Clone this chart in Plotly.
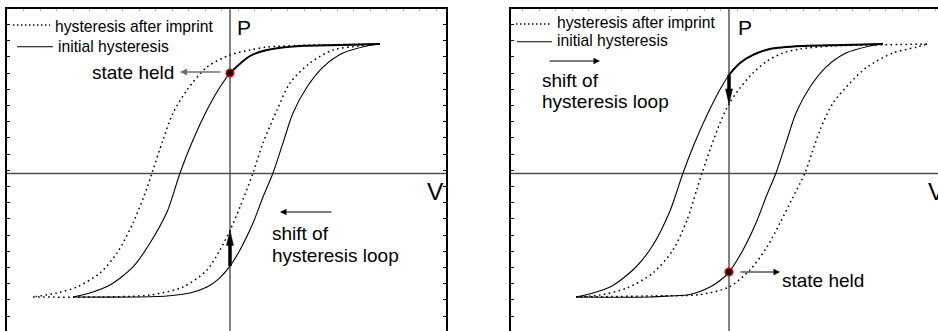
import plotly.graph_objects as go

W, H = 938, 331
FONT = "Liberation Sans, Arial, sans-serif"

# ---------------------------------------------------------------------------
# Hysteresis loops: V in arbitrary voltage units, P normalised to saturation.
# Each loop = upper branch (sweep down) + lower branch (sweep up).
# ---------------------------------------------------------------------------

# Left panel: loop shifted towards negative voltage after imprint
left_init_up_v = [3.00, 2.20, 1.40, 0.74, 0.40, 0.00, -0.20, -0.46, -0.74, -1.00,
                  -1.14, -1.26, -1.60, -1.94, -2.40, -2.80, -3.14]
left_init_up_p = [0.996, 0.988, 0.981, 0.950, 0.904, 0.773, 0.665, 0.488, 0.258, 0.004,
                  -0.165, -0.296, -0.535, -0.719, -0.858, -0.919, -0.950]
left_init_lo_v = [-3.14, -1.94, -1.26, -0.80, -0.46, -0.22, 0.00, 0.20, 0.46, 0.66, 0.86,
                  1.06, 1.26, 1.54, 1.86, 2.26, 2.74, 3.00]
left_init_lo_p = [-0.950, -0.950, -0.942, -0.919, -0.873, -0.808, -0.712, -0.588, -0.381, -0.181,
                  0.004, 0.235, 0.465, 0.665, 0.819, 0.927, 0.981, 0.996]
left_impr_up_v = [3.00, 1.40, 0.74, 0.40, 0.00, -0.46, -0.86, -1.14, -1.34, -1.56,
                  -1.66, -1.94, -2.26, -2.60, -3.06, -3.46, -3.94]
left_impr_up_p = [0.996, 0.985, 0.973, 0.950, 0.912, 0.819, 0.642, 0.465, 0.258, 0.004,
                  -0.112, -0.381, -0.612, -0.765, -0.873, -0.919, -0.950]
left_impr_lo_v = [-3.94, -2.60, -1.60, -0.94, -0.46, -0.20, 0.00, 0.20, 0.46, 0.66,
                  0.94, 1.20, 1.60, 2.06, 2.60, 3.00]
left_impr_lo_p = [-0.950, -0.950, -0.935, -0.873, -0.742, -0.588, -0.438, -0.258, 0.004, 0.235,
                  0.488, 0.696, 0.850, 0.950, 0.981, 0.996]

# Right panel: loop shifted towards positive voltage after imprint
right_init_up_v = [3.08, 2.28, 1.48, 0.82, 0.48, 0.22, 0.00, -0.18, -0.42, -0.68,
                   -0.92, -1.06, -1.18, -1.52, -1.88, -2.34, -2.72, -3.06]
right_init_up_p = [0.996, 0.988, 0.981, 0.958, 0.912, 0.850, 0.758, 0.646, 0.465, 0.242,
                   0.004, -0.158, -0.288, -0.550, -0.727, -0.865, -0.919, -0.950]
right_init_lo_v = [-3.06, -1.58, -1.18, -0.78, -0.38, -0.18, 0.00, 0.28, 0.54, 0.74, 0.94,
                   1.14, 1.34, 1.62, 1.94, 2.34, 2.82, 3.08]
right_init_lo_p = [-0.950, -0.950, -0.942, -0.931, -0.873, -0.823, -0.758, -0.588, -0.381, -0.181,
                   0.004, 0.235, 0.465, 0.665, 0.819, 0.927, 0.981, 0.996]
right_impr_up_v = [3.96, 3.42, 2.76, 2.08, 1.42, 1.08, 0.76, 0.48, 0.22, 0.00,
                   -0.18, -0.36, -0.54, -0.64, -0.84, -1.12, -1.52, -2.04, -2.58, -3.06]
right_impr_up_p = [0.996, 0.992, 0.988, 0.981, 0.958, 0.927, 0.865, 0.773, 0.658, 0.535,
                   0.388, 0.204, 0.004, -0.119, -0.358, -0.588, -0.765, -0.881, -0.935, -0.950]
right_impr_lo_v = [-3.06, -1.58, -0.58, 0.00, 0.42, 0.76, 1.02, 1.26, 1.52, 1.66,
                   1.82, 2.08, 2.42, 2.76, 3.28, 3.76, 3.96]
right_impr_lo_p = [-0.950, -0.942, -0.931, -0.873, -0.742, -0.565, -0.381, -0.196, 0.004, 0.158,
                   0.335, 0.542, 0.696, 0.819, 0.927, 0.973, 0.996]

# ---------------------------------------------------------------------------
# Layout geometry
# ---------------------------------------------------------------------------
PLOT_TOP = 9
Y_RANGE = [-1.2115, 1.2654]
Y_DOMAIN = [0, 1 - PLOT_TOP / H]
PX_PER_P = (H - PLOT_TOP) / (Y_RANGE[1] - Y_RANGE[0])

SOLID = dict(color="#000", width=1.1, shape="spline", smoothing=0.8)
DOTTED = dict(color="#000", width=1.5, dash="1.6px,3.4px", shape="spline", smoothing=0.8)
BOLD = dict(color="#000", width=1.9, shape="spline", smoothing=0.8)


def px(x):
    return x / W


def py(y):
    return 1 - y / H


def p_at_zero(vs, ps):
    return ps[vs.index(0.0)]


fig = go.Figure()


def add_panel(xa, ya, impr_up, impr_lo, init_up, init_lo, held_branch):
    for (v, p) in (impr_up, impr_lo):
        fig.add_trace(go.Scatter(x=v, y=p, mode="lines", line=DOTTED,
                                 xaxis=xa, yaxis=ya, hoverinfo="skip"))
    for (v, p) in (init_up, init_lo):
        fig.add_trace(go.Scatter(x=v, y=p, mode="lines", line=SOLID,
                                 xaxis=xa, yaxis=ya, hoverinfo="skip"))
    # the initial upper branch between the P axis and saturation is emphasised
    v_up, p_up = init_up
    seg = [(v, p) for v, p in zip(v_up, p_up) if v >= 0]
    fig.add_trace(go.Scatter(x=[s[0] for s in seg], y=[s[1] for s in seg], mode="lines",
                             line=BOLD, xaxis=xa, yaxis=ya, hoverinfo="skip"))
    # state held at V = 0
    hv, hp = held_branch
    fig.add_trace(go.Scatter(x=[0.0], y=[p_at_zero(hv, hp)], mode="markers",
                             marker=dict(size=7.5, color="#000",
                                         line=dict(color="#e00000", width=1.6)),
                             xaxis=xa, yaxis=ya, hoverinfo="skip"))


add_panel("x", "y",
          (left_impr_up_v, left_impr_up_p), (left_impr_lo_v, left_impr_lo_p),
          (left_init_up_v, left_init_up_p), (left_init_lo_v, left_init_lo_p),
          (left_init_up_v, left_init_up_p))
add_panel("x2", "y2",
          (right_impr_up_v, right_impr_up_p), (right_impr_lo_v, right_impr_lo_p),
          (right_init_up_v, right_init_up_p), (right_init_lo_v, right_init_lo_p),
          (right_init_lo_v, right_init_lo_p))

# ---------------------------------------------------------------------------
# Axes: framed panels with the V / P axes drawn through the origin
# ---------------------------------------------------------------------------
def xaxis_cfg(domain, rng):
    return dict(domain=domain, range=rng, side="top", showline=True, linecolor="#000",
                linewidth=1.6, mirror=False, ticks="inside", ticklen=2, tickwidth=1,
                tickcolor="#aaa", tick0=-3.8, dtick=0.33, showticklabels=False,
                showgrid=False, zeroline=False, fixedrange=True)


def yaxis_cfg(anchor, mirror):
    return dict(domain=Y_DOMAIN, range=Y_RANGE, anchor=anchor, showline=True,
                linecolor="#000", linewidth=1.6, mirror=mirror, ticks="inside",
                ticklen=3, tickwidth=1, tickcolor="#000", tick0=0.0246, dtick=0.1246,
                showticklabels=False, showgrid=False, zeroline=False, fixedrange=True)


fig.update_layout(
    width=W, height=H, margin=dict(l=0, r=0, t=0, b=0),
    paper_bgcolor="white", plot_bgcolor="white", showlegend=False,
    xaxis=dict(xaxis_cfg([7 / W, 446 / W], [-4.46, 4.32]), anchor="y"),
    yaxis=yaxis_cfg("x", "ticks"),
    xaxis2=dict(xaxis_cfg([511 / W, 1.0], [-4.36, 4.18]), anchor="y2"),
    yaxis2=yaxis_cfg("x2", False),
)

AXIS_LINE = dict(color="#4d4d4d", width=1.4)
for xa, ya in (("x", "y"), ("x2", "y2")):
    fig.add_shape(type="line", xref=xa, yref=ya + " domain", x0=0, x1=0, y0=0, y1=1,
                  line=AXIS_LINE, layer="below")
    fig.add_shape(type="line", xref=xa + " domain", yref=ya, x0=0, x1=1, y0=0, y1=0,
                  line=AXIS_LINE, layer="below")


# thick arrows showing the change of the held polarisation at V = 0
def thick_arrow(xa, ya, p_from, p_to):
    d = 1 if p_to > p_from else -1
    fig.add_shape(type="line", xref=xa, yref=ya, x0=0, x1=0, y0=p_from,
                  y1=p_to - d * 10 / PX_PER_P, line=dict(color="#000", width=3.5))
    fig.add_shape(type="path", xref=xa, yref=ya, xsizemode="pixel", ysizemode="pixel",
                  xanchor=0, yanchor=p_to,
                  path=f"M0,0 L-3.5,{-15 * d} L3.5,{-15 * d} Z",
                  fillcolor="#000", line=dict(color="#000", width=0.5))


thick_arrow("x", "y", p_at_zero(left_init_lo_v, left_init_lo_p),
            p_at_zero(left_impr_lo_v, left_impr_lo_p))
thick_arrow("x2", "y2", p_at_zero(right_init_up_v, right_init_up_p),
            p_at_zero(right_impr_up_v, right_impr_up_p))


# ---------------------------------------------------------------------------
# Legends, labels and thin arrows
# ---------------------------------------------------------------------------
def sample_line(x0, x1, y, dotted):
    line = dict(color="#000", width=1.3 if dotted else 1.1)
    if dotted:
        line["dash"] = "1.4px,2.6px"
    fig.add_shape(type="line", xref="paper", yref="paper", x0=px(x0), x1=px(x1),
                  y0=py(y), y1=py(y), line=line)


def label(x, y, text, size):
    fig.add_annotation(x=px(x), y=py(y), xref="paper", yref="paper", text=text,
                       showarrow=False, xanchor="left", yanchor="middle", borderpad=0,
                       font=dict(family=FONT, size=size, color="#000"))


def thin_arrow(x_head, y_head, x_tail, y_tail, color, width, size):
    fig.add_annotation(x=px(x_head), y=py(y_head), xref="paper", yref="paper",
                       ax=x_tail - x_head, ay=y_tail - y_head, text="", showarrow=True,
                       arrowhead=2, arrowsize=size, arrowwidth=width, arrowcolor=color)


# left panel
sample_line(13, 50, 25, True)
sample_line(17, 53, 46.7, False)
label(54, 26.2, "hysteresis after imprint", 15.7)
label(57, 46.9, "initial hysteresis", 15.7)
label(235.5, 27.5, "P", 21)
label(426, 191, "V", 24.5)
label(91, 72.4, "state held", 19)
thin_arrow(180, 72, 222, 72, "#707070", 1.6, 0.9)
thin_arrow(280, 212, 333, 212, "#000", 1.0, 1.3)
label(271, 233.5, "shift of", 19)
label(271, 255.2, "hysteresis loop", 19)

# right panel
sample_line(516, 552, 24, True)
sample_line(517, 552, 41.7, False)
label(556, 23, "hysteresis after imprint", 15.7)
label(556, 40.3, "initial hysteresis", 15.7)
label(736.5, 27.5, "P", 21)
label(927, 191, "V", 24.5)
thin_arrow(600, 61, 548, 61, "#000", 1.0, 1.3)
label(541, 80.2, "shift of", 19)
label(541, 101.8, "hysteresis loop", 19)
thin_arrow(780, 272, 739, 272, "#000", 1.0, 1.3)
label(781, 280, "state held", 19)

fig.write_html("out.html")
